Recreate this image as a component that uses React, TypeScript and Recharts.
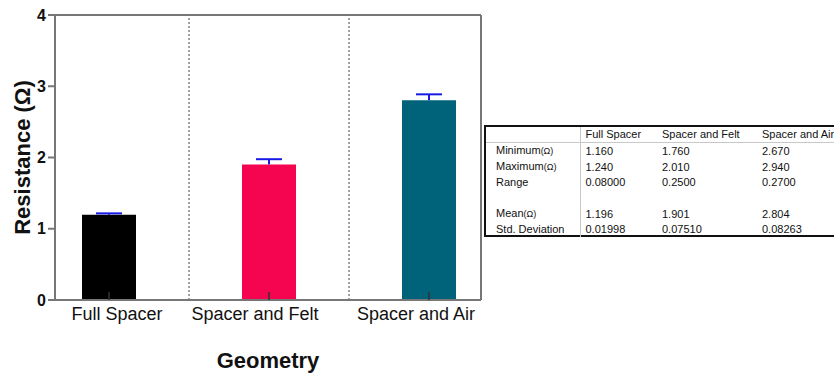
import React from 'react';
import { BarChart, Bar, XAxis, YAxis, ReferenceLine, Cell, Label } from 'recharts';

const categories = ['Full Spacer', 'Spacer and Felt', 'Spacer and Air'];
const means = [1.196, 1.901, 2.804];
const stdDevs = [0.01998, 0.0751, 0.08263];
const minima = ['1.160', '1.760', '2.670'];
const maxima = ['1.240', '2.010', '2.940'];
const ranges = ['0.08000', '0.2500', '0.2700'];
const meanLabels = ['1.196', '1.901', '2.804'];
const sdLabels = ['0.01998', '0.07510', '0.08263'];
const barColors = ['#000000', '#F5054F', '#00637A'];
const yTicks = [0, 1, 2, 3, 4];

const data = categories.map((name, i) => ({ idx: i, name, mean: means[i], sd: stdDevs[i] }));

const FONT = '"Liberation Sans", Arial, Helvetica, sans-serif';
const labelShift = [8, -14, -13];

const XTick = (props: any) => {
  const { x, y, payload } = props;
  const i = payload.value as number;
  return (
    <g>
      <line x1={x} x2={x} y1={y - 8} y2={y} stroke="#333" strokeWidth={1.5} />
      <text x={x + (labelShift[i] || 0)} y={y + 20} textAnchor="middle" fontSize={18} fontFamily={FONT} fill="#111">
        {categories[i]}
      </text>
    </g>
  );
};

const ErrShape = (props: any) => {
  const { x, y, width, height } = props;
  const cx = x + width / 2;
  return (
    <g>
      <line x1={cx} x2={cx} y1={y + height} y2={y} stroke="#1a1ae6" strokeWidth={2} />
      <line x1={cx - 13} x2={cx + 13} y1={y} y2={y} stroke="#1a1ae6" strokeWidth={2} />
    </g>
  );
};

const cell: React.CSSProperties = { padding: '0 0 0 5px', height: 15, lineHeight: '15px', whiteSpace: 'nowrap' };
const lab: React.CSSProperties = { ...cell, paddingLeft: 10, borderRight: '1px solid #c8c8c8' };
const omega = <span style={{ fontSize: 9 }}>(Ω)</span>;

const rows: { label: React.ReactNode; vals: string[] }[] = [
  { label: <>Minimum{omega}</>, vals: minima },
  { label: <>Maximum{omega}</>, vals: maxima },
  { label: 'Range', vals: ranges },
  { label: '', vals: ['', '', ''] },
  { label: <>Mean{omega}</>, vals: meanLabels },
  { label: 'Std. Deviation', vals: sdLabels },
];

export default function App() {
  return (
    <div style={{ position: 'absolute', left: 0, top: 0, width: 834, height: 375, overflow: 'hidden', background: '#fff' }}>
      <BarChart width={834} height={375} data={data} margin={{ top: 15, right: 353, left: 0, bottom: 0 }}>
        <XAxis
          type="number"
          dataKey="idx"
          domain={[-0.3375, 2.325]}
          allowDataOverflow
          ticks={[0, 1, 2]}
          interval={0}
          height={75}
          tickSize={0}
          tickMargin={0}
          tickLine={false}
          axisLine={{ stroke: '#777', strokeWidth: 2 }}
          tick={<XTick />}
        >
          <Label
            content={(p: any) => {
              const vb = p.viewBox || {};
              return (
                <text x={vb.x + vb.width / 2} y={368} textAnchor="middle" fontSize={22} fontWeight="bold" fontFamily={FONT} fill="#111">
                  Geometry
                </text>
              );
            }}
          />
        </XAxis>
        <YAxis
          width={55}
          domain={[0, 4]}
          ticks={yTicks}
          allowDataOverflow
          tickSize={7}
          tickMargin={2}
          tickLine={{ stroke: '#777', strokeWidth: 2 }}
          axisLine={{ stroke: '#777', strokeWidth: 2 }}
          tick={{ fontSize: 16, fontWeight: 'bold', fill: '#111', fontFamily: FONT }}
        >
          <Label
            content={(p: any) => {
              const vb = p.viewBox || {};
              const cy = vb.y + vb.height / 2;
              return (
                <text x={30} y={cy} transform={`rotate(-90 30 ${cy})`} textAnchor="middle" fontSize={22} fontWeight="bold" fontFamily={FONT} fill="#111">
                  Resistance (Ω)
                </text>
              );
            }}
          />
        </YAxis>
        <ReferenceLine x={0.5} stroke="#444" strokeWidth={1} strokeDasharray="2 2" />
        <ReferenceLine x={1.5} stroke="#444" strokeWidth={1} strokeDasharray="2 2" />
        <ReferenceLine y={4} stroke="#777" strokeWidth={2} />
        <ReferenceLine x={2.325} stroke="#777" strokeWidth={2} />
        <Bar dataKey="mean" stackId="s" barSize={54} isAnimationActive={false}>
          {data.map((d, i) => (
            <Cell key={d.name} fill={barColors[i]} />
          ))}
        </Bar>
        <Bar dataKey="sd" stackId="s" barSize={54} isAnimationActive={false} shape={<ErrShape />} />
      </BarChart>
      <div
        style={{
          position: 'absolute',
          left: 484,
          top: 125,
          width: 400,
          height: 112,
          borderTop: '2px solid #111',
          borderLeft: '2px solid #111',
          borderBottom: '2px solid #111',
          fontFamily: FONT,
          fontSize: 11,
          color: '#111',
          boxSizing: 'border-box',
        }}
      >
        <table style={{ borderCollapse: 'collapse', fontSize: 11, fontFamily: FONT }}>
          <colgroup>
            <col style={{ width: 94 }} />
            <col style={{ width: 77 }} />
            <col style={{ width: 100 }} />
            <col style={{ width: 120 }} />
          </colgroup>
          <thead>
            <tr style={{ borderBottom: '1px solid #c8c8c8' }}>
              <th style={{ ...lab, height: 15, fontWeight: 'normal' }}></th>
              {categories.map((c) => (
                <th key={c} style={{ ...cell, fontWeight: 'normal', textAlign: 'left' }}>
                  {c}
                </th>
              ))}
            </tr>
          </thead>
          <tbody>
            {rows.map((r, ri) => (
              <tr key={ri}>
                <td style={{ ...lab, height: ri === 3 ? 16 : 15 }}>{r.label}</td>
                {r.vals.map((v, vi) => (
                  <td key={vi} style={cell}>
                    {v}
                  </td>
                ))}
              </tr>
            ))}
          </tbody>
        </table>
      </div>
    </div>
  );
}
